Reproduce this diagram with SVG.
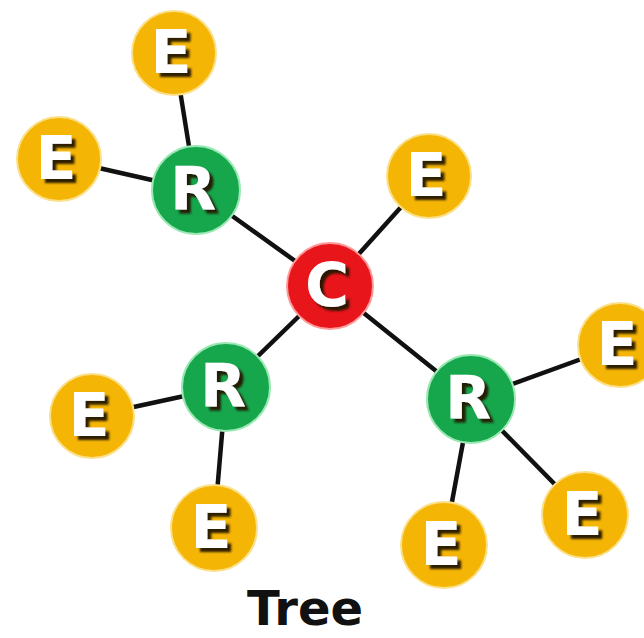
<svg xmlns="http://www.w3.org/2000/svg" width="644" height="638" viewBox="0 0 644 638">
<defs>
<filter id="shadow" x="-30%" y="-30%" width="160%" height="160%">
<feDropShadow dx="4" dy="4" stdDeviation="1" flood-color="#231500" flood-opacity="0.95"/>
</filter>
</defs>
<style>
.edge{stroke:#111;stroke-width:4.5;stroke-linecap:round}
.e{fill:#f5b505;stroke:#fbe08a;stroke-width:2}
.r{fill:#16a64c;stroke:#9be8b4;stroke-width:2}
.c{fill:#e8151b;stroke:#ff9a9a;stroke-width:2}
.lt{font-family:"DejaVu Sans",Verdana,sans-serif;font-weight:bold;font-size:60px;text-anchor:middle;fill:#ffffff;filter:url(#shadow)}
.title{font-family:"DejaVu Sans",Verdana,sans-serif;font-weight:bold;font-size:48px;text-anchor:middle;fill:#111}
</style>
<rect width="644" height="638" fill="#ffffff"/>
<g id="connectors">
<line class="edge" x1="330" y1="286" x2="196" y2="190"/>
<line class="edge" x1="330" y1="286" x2="429" y2="176"/>
<line class="edge" x1="330" y1="286" x2="226" y2="387"/>
<line class="edge" x1="330" y1="286" x2="471" y2="399"/>
<line class="edge" x1="196" y1="190" x2="174" y2="53"/>
<line class="edge" x1="196" y1="190" x2="59" y2="159"/>
<line class="edge" x1="226" y1="387" x2="92" y2="416"/>
<line class="edge" x1="226" y1="387" x2="214" y2="528"/>
<line class="edge" x1="471" y1="399" x2="620" y2="345"/>
<line class="edge" x1="471" y1="399" x2="444" y2="545"/>
<line class="edge" x1="471" y1="399" x2="585" y2="515"/>
</g>
<g id="nodeC">
<circle class="c" cx="330" cy="286" r="43"/>
<text class="lt" x="327" y="306">C</text>
</g>
<g id="nodeR1">
<circle class="r" cx="196" cy="190" r="44"/>
<text class="lt" x="193" y="210">R</text>
</g>
<g id="nodeR2">
<circle class="r" cx="226" cy="387" r="44"/>
<text class="lt" x="223" y="407">R</text>
</g>
<g id="nodeR3">
<circle class="r" cx="471" cy="399" r="44"/>
<text class="lt" x="468" y="419">R</text>
</g>
<g id="nodeE1">
<circle class="e" cx="174" cy="53" r="42"/>
<text class="lt" x="171" y="73">E</text>
</g>
<g id="nodeE2">
<circle class="e" cx="59" cy="159" r="42"/>
<text class="lt" x="56" y="179">E</text>
</g>
<g id="nodeE3">
<circle class="e" cx="429" cy="176" r="42"/>
<text class="lt" x="426" y="196">E</text>
</g>
<g id="nodeE4">
<circle class="e" cx="620" cy="345" r="42"/>
<text class="lt" x="617" y="365">E</text>
</g>
<g id="nodeE5">
<circle class="e" cx="92" cy="416" r="42"/>
<text class="lt" x="89" y="436">E</text>
</g>
<g id="nodeE6">
<circle class="e" cx="214" cy="528" r="43"/>
<text class="lt" x="211" y="548">E</text>
</g>
<g id="nodeE7">
<circle class="e" cx="444" cy="545" r="43"/>
<text class="lt" x="441" y="565">E</text>
</g>
<g id="nodeE8">
<circle class="e" cx="585" cy="515" r="43"/>
<text class="lt" x="582" y="535">E</text>
</g>
<text class="title" x="305" y="625">Tree</text>
</svg>
